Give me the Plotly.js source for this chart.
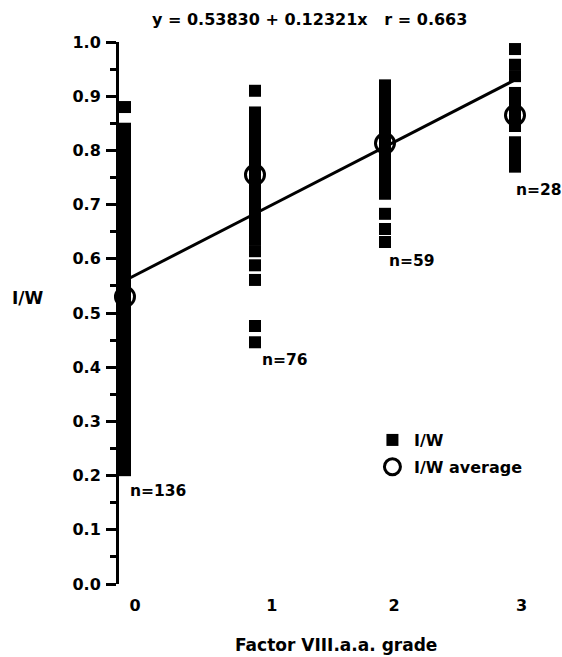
<!DOCTYPE html>
<html>
<head>
<meta charset="utf-8">
<script src="https://cdn.plot.ly/plotly-3.0.1.min.js"></script>
<style>html,body{margin:0;padding:0;background:#fff;}#chart{width:562px;height:657px;}</style>
</head>
<body>
<div id="chart"></div>
<script>
// ---- data ----
const grades = [0, 1, 2, 3];
const gradeTickLabels = ['0', '1', '2', '3'];
const countLabels = ['n=136', 'n=76', 'n=59', 'n=28'];

const iwGrade0 = [0.88, 0.84, 0.83, 0.82, 0.80, 0.79, 0.78, 0.76, 0.75, 0.74, 0.72, 0.71, 0.70, 0.69,
  0.68, 0.67, 0.66, 0.65, 0.64, 0.63, 0.62, 0.61, 0.60, 0.59, 0.58, 0.57, 0.56, 0.55, 0.54, 0.53,
  0.52, 0.51, 0.50, 0.49, 0.48, 0.47, 0.46, 0.45, 0.44, 0.43, 0.42, 0.41, 0.40, 0.39, 0.38, 0.37,
  0.36, 0.35, 0.33, 0.32, 0.31, 0.30, 0.29, 0.28, 0.27, 0.26, 0.25, 0.24, 0.23, 0.22, 0.21];
const iwGrade1 = [0.91, 0.87, 0.86, 0.85, 0.84, 0.83, 0.82, 0.81, 0.80, 0.79, 0.78, 0.77, 0.76, 0.75,
  0.74, 0.73, 0.72, 0.71, 0.70, 0.69, 0.68, 0.67, 0.66, 0.65, 0.635, 0.614, 0.588, 0.561, 0.476, 0.446];
const iwGrade2 = [0.92, 0.91, 0.90, 0.89, 0.88, 0.87, 0.86, 0.85, 0.84, 0.83, 0.82, 0.81, 0.80, 0.79,
  0.78, 0.77, 0.76, 0.75, 0.74, 0.73, 0.72, 0.683, 0.655, 0.631];
const iwGrade3 = [0.987, 0.958, 0.937, 0.906, 0.89, 0.875, 0.86, 0.845, 0.815, 0.80, 0.785, 0.77];

const iwAverage = [0.53, 0.755, 0.813, 0.865];
const fitX = [0, 3];
const fitY = [0.56, 0.93];
const equationText = 'y = 0.53830 + 0.12321x\u00a0\u00a0\u00a0r = 0.663';

// ---- build traces ----
const groups = [iwGrade0, iwGrade1, iwGrade2, iwGrade3];
const ptsX = [], ptsY = [];
groups.forEach((vals, i) => vals.forEach(v => { ptsX.push(grades[i]); ptsY.push(v); }));

const FONT = 'DejaVu Sans';
const bold = (size) => ({family: FONT, size: size, color: '#000', weight: 'bold'});

const traces = [
  {x: fitX, y: fitY, mode: 'lines', line: {color: '#000', width: 3}, showlegend: false,
   hoverinfo: 'skip', cliponaxis: false},
  {x: ptsX, y: ptsY, mode: 'markers', name: 'I/W', legendgroup: 'a',
   marker: {symbol: 'square', size: 12, color: '#000', line: {width: 0}}, cliponaxis: false},
  {x: grades, y: iwAverage, mode: 'markers', name: 'I/W average', legendgroup: 'b',
   marker: {symbol: 'circle-open', size: 19, color: '#000', line: {width: 3, color: '#000'}}, cliponaxis: false}
];

const nPos = [[0.023, 0.172], [1.038, 0.413], [2.015, 0.596], [2.995, 0.727]];
const annotations = countLabels.map((t, i) => ({
  text: t, x: nPos[i][0], y: nPos[i][1], xref: 'x', yref: 'y', xanchor: 'left', yanchor: 'middle',
  showarrow: false, font: bold(15.5)
}));
annotations.push({text: equationText, xref: 'paper', yref: 'paper', x: 0.4526, y: 1.0406,
  xanchor: 'center', yanchor: 'middle', showarrow: false, font: bold(16)});
annotations.push({text: 'I/W', xref: 'paper', yref: 'paper', x: -0.2156, y: 0.5277,
  xanchor: 'center', yanchor: 'middle', showarrow: false, font: bold(17)});
annotations.push({text: 'Factor VIII.a.a. grade', xref: 'paper', yref: 'paper', x: 0.514, y: -0.1125,
  xanchor: 'center', yanchor: 'middle', showarrow: false, font: bold(17)});

const layout = {
  width: 562, height: 657,
  margin: {l: 119, r: 21, t: 42, b: 73, pad: 0},
  paper_bgcolor: '#fff', plot_bgcolor: '#fff',
  font: bold(16),
  showlegend: true,
  legend: {x: 0.597, y: 0.297, xanchor: 'left', yanchor: 'top', bgcolor: 'rgba(0,0,0,0)',
           font: bold(16), tracegroupgap: 3, itemwidth: 33},
  xaxis: {range: [-0.046, 3.2], showgrid: false, zeroline: false, showline: false,
          tickmode: 'array', tickvals: [0.077, 1.13, 2.07, 3.05], ticktext: gradeTickLabels,
          ticks: '', ticklabelstandoff: 10, tickfont: bold(16), fixedrange: true},
  yaxis: {range: [0, 1.0], showgrid: false, zeroline: false, showline: true, linewidth: 3,
          linecolor: '#000', ticks: 'outside', ticklen: 10, tickwidth: 3, tickcolor: '#000',
          dtick: 0.1, tick0: 0, tickformat: '.1f', tickfont: bold(16), ticklabelstandoff: 2,
          minor: {dtick: 0.05, ticks: 'outside', ticklen: 6, tickwidth: 3, tickcolor: '#000'},
          fixedrange: true},
  annotations: annotations
};

Plotly.newPlot('chart', traces, layout, {displayModeBar: false, staticPlot: true});
</script>
</body>
</html>
